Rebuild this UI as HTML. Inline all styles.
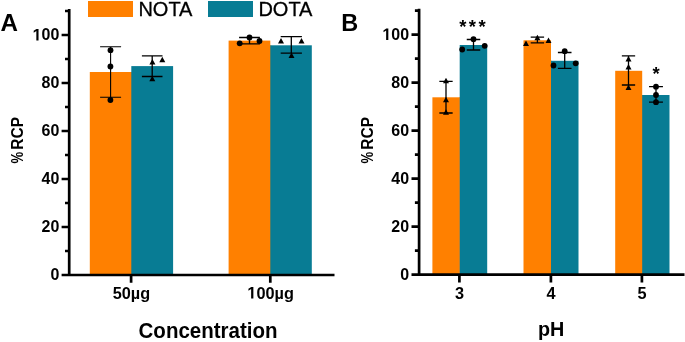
<!DOCTYPE html>
<html><head><meta charset="utf-8"><style>
html,body{margin:0;padding:0;background:#fff;width:685px;height:342px;overflow:hidden}
svg{display:block;will-change:transform}
text{font-family:"Liberation Sans",sans-serif;fill:#000}
</style></head><body>
<svg width="685" height="342" viewBox="0 0 685 342">
<text transform="translate(0.60 31.30) scale(1.03 1.04)" font-size="23.5" font-weight="bold" text-anchor="start">A</text>
<text transform="translate(341.20 31.20) scale(1.0 1.04)" font-size="23.5" font-weight="bold" text-anchor="start">B</text>
<rect x="88" y="1" width="45" height="16" fill="#ff8000"/>
<text transform="translate(138.40 16.00) scale(1.0 1.05)" font-size="20" font-weight="normal" text-anchor="start" stroke="#000" stroke-width="0.3">NOTA</text>
<rect x="208" y="1" width="45" height="16" fill="#087c94"/>
<text transform="translate(258.40 16.00) scale(1.0 1.05)" font-size="20" font-weight="normal" text-anchor="start" stroke="#000" stroke-width="0.3">DOTA</text>
<g transform="translate(-0.2 0.3)">
<rect x="90.00" y="71.70" width="41.50" height="203.00" fill="#ff8000"/>
<rect x="131.00" y="71.70" width="1.5" height="203.00" fill="#ff8000"/>
<rect x="131.50" y="65.80" width="41.80" height="208.90" fill="#087c94"/>
<rect x="228.80" y="40.30" width="41.70" height="234.40" fill="#ff8000"/>
<rect x="270.00" y="45.00" width="1.5" height="229.70" fill="#ff8000"/>
<rect x="270.50" y="45.00" width="41.50" height="229.70" fill="#087c94"/>
<path d="M110.80 46.40V97.00M100.30 46.40H121.30M100.30 97.00H121.30" stroke="#000" stroke-width="1.1" fill="none"/>
<path d="M152.40 55.60V76.20M142.10 55.60H162.70M142.10 76.20H162.70" stroke="#000" stroke-width="1.3" fill="none"/>
<path d="M249.70 37.20V43.50M239.30 37.20H260.10M239.30 43.50H260.10" stroke="#000" stroke-width="1.3" fill="none"/>
<path d="M291.50 36.30V52.80M280.90 36.30H302.10M280.90 52.80H302.10" stroke="#000" stroke-width="1.3" fill="none"/>
<g fill="#000"><circle cx="110.70" cy="49.90" r="2.9"/><circle cx="110.60" cy="66.20" r="2.9"/><circle cx="110.60" cy="99.70" r="2.9"/><circle cx="239.90" cy="43.00" r="2.9"/><circle cx="249.70" cy="37.20" r="2.9"/><circle cx="259.70" cy="40.70" r="2.9"/></g>
<path fill="#000" d="M149.60 64.20L155.60 64.20L152.60 58.60ZM159.50 62.00L165.50 62.00L162.50 56.40ZM149.50 81.00L155.50 81.00L152.50 75.40ZM278.20 43.30L284.20 43.30L281.20 37.70ZM298.70 43.30L304.70 43.30L301.70 37.70ZM288.70 57.80L294.70 57.80L291.70 52.20Z"/>
<path d="M69.4 8.75V274.70M68.05 274.7H334.70M61.80 274.70H69.4M65.20 250.70H69.4M61.80 226.70H69.4M65.20 202.70H69.4M61.80 178.70H69.4M65.20 154.70H69.4M61.80 130.70H69.4M65.20 106.70H69.4M61.80 82.70H69.4M65.20 58.70H69.4M61.80 34.70H69.4M65.20 10.70H69.4M131.30 274.7V282.4M270.50 274.7V282.4" stroke="#000" stroke-width="2.7" fill="none"/>
<g transform="translate(0.3 -0.3)">
<text transform="translate(59.20 280.45) scale(1.0 1.04)" font-size="16" font-weight="bold" text-anchor="end">0</text>
<text transform="translate(59.20 232.45) scale(1.0 1.04)" font-size="16" font-weight="bold" text-anchor="end">20</text>
<text transform="translate(59.20 184.45) scale(1.0 1.04)" font-size="16" font-weight="bold" text-anchor="end">40</text>
<text transform="translate(59.20 136.45) scale(1.0 1.04)" font-size="16" font-weight="bold" text-anchor="end">60</text>
<text transform="translate(59.20 88.45) scale(1.0 1.04)" font-size="16" font-weight="bold" text-anchor="end">80</text>
<text transform="translate(59.20 40.45) scale(1.0 1.04)" font-size="16" font-weight="bold" text-anchor="end">00</text>
<path fill="#000" d="M36.24 40.45 36.24 30.94 33.60 32.66 33.60 30.86 36.36 29.00 38.43 29.00 38.43 40.45Z"/>
<text transform="translate(131.30 298.60) scale(1.0 1.04)" font-size="16.3" font-weight="bold" text-anchor="middle">50µg</text>
<path fill="#000" d="M251.03 298.60 251.03 288.92 248.34 290.66 248.34 288.83 251.15 286.94 253.27 286.94 253.27 298.60Z"/>
<text transform="translate(256.29 298.60) scale(1.0 1.04)" font-size="16.3" font-weight="bold" text-anchor="start">00µg</text>
</g></g>
<text transform="translate(23.00 117.00) rotate(-90) scale(0.97 1.04)" font-size="16" font-weight="bold" text-anchor="end">RCP</text>
<text transform="translate(23.00 163.50) rotate(-90) scale(0.82 1.04)" font-size="16" font-weight="bold" text-anchor="start">%</text>
<text transform="translate(208.00 338.20) scale(1.0 1.04)" font-size="20.5" font-weight="bold" text-anchor="middle">Concentration</text>
<g transform="translate(0.2 0)">
<rect x="432.20" y="97.30" width="27.30" height="177.40" fill="#ff8000"/>
<rect x="459.00" y="97.30" width="1.5" height="177.40" fill="#ff8000"/>
<rect x="459.50" y="45.00" width="27.50" height="229.70" fill="#087c94"/>
<rect x="523.30" y="40.30" width="27.50" height="234.40" fill="#ff8000"/>
<rect x="550.30" y="60.80" width="1.5" height="213.90" fill="#ff8000"/>
<rect x="550.80" y="60.80" width="27.50" height="213.90" fill="#087c94"/>
<rect x="615.00" y="70.80" width="27.00" height="203.90" fill="#ff8000"/>
<rect x="641.50" y="95.00" width="1.5" height="179.70" fill="#ff8000"/>
<rect x="642.00" y="95.00" width="27.30" height="179.70" fill="#087c94"/>
<path d="M445.80 81.30V113.00M439.15 81.30H452.45M439.15 113.00H452.45" stroke="#000" stroke-width="1.3" fill="none"/>
<path d="M473.30 39.50V50.00M466.55 39.50H480.05M466.55 50.00H480.05" stroke="#000" stroke-width="1.3" fill="none"/>
<path d="M537.20 37.20V42.80M530.50 37.20H543.90M530.50 42.80H543.90" stroke="#000" stroke-width="1.3" fill="none"/>
<path d="M564.50 52.50V68.30M557.70 52.50H571.30M557.70 68.30H571.30" stroke="#000" stroke-width="1.3" fill="none"/>
<path d="M628.30 55.80V85.00M621.65 55.80H634.95M621.65 85.00H634.95" stroke="#000" stroke-width="1.3" fill="none"/>
<path d="M655.80 86.70V102.20M648.85 86.70H662.75M648.85 102.20H662.75" stroke="#000" stroke-width="1.3" fill="none"/>
<g fill="#000"><circle cx="462.00" cy="49.50" r="2.9"/><circle cx="473.30" cy="39.20" r="2.9"/><circle cx="484.50" cy="45.80" r="2.9"/><circle cx="564.50" cy="51.20" r="2.9"/><circle cx="553.30" cy="65.50" r="2.9"/><circle cx="575.50" cy="63.30" r="2.9"/><circle cx="655.80" cy="86.70" r="2.9"/><circle cx="655.80" cy="95.00" r="2.9"/><circle cx="655.80" cy="102.20" r="2.9"/></g>
<path fill="#000" d="M442.80 83.30L448.80 83.30L445.80 77.70ZM442.80 102.30L448.80 102.30L445.80 96.70ZM442.80 114.80L448.80 114.80L445.80 109.20ZM522.80 46.10L528.80 46.10L525.80 40.50ZM534.20 40.30L540.20 40.30L537.20 34.70ZM545.30 43.10L551.30 43.10L548.30 37.50ZM625.30 61.60L631.30 61.60L628.30 56.00ZM625.30 69.50L631.30 69.50L628.30 63.90ZM625.30 90.10L631.30 90.10L628.30 84.50Z"/>
<path d="M418.9 8.75V274.70M417.55 274.7H684.30M411.30 274.70H418.9M414.70 250.70H418.9M411.30 226.70H418.9M414.70 202.70H418.9M411.30 178.70H418.9M414.70 154.70H418.9M411.30 130.70H418.9M414.70 106.70H418.9M411.30 82.70H418.9M414.70 58.70H418.9M411.30 34.70H418.9M414.70 10.70H418.9M459.20 274.7V282.4M550.70 274.7V282.4M641.70 274.7V282.4" stroke="#000" stroke-width="2.7" fill="none"/>
<g transform="translate(0.2 -0.4)">
<text transform="translate(408.70 280.45) scale(1.0 1.04)" font-size="16" font-weight="bold" text-anchor="end">0</text>
<text transform="translate(408.70 232.45) scale(1.0 1.04)" font-size="16" font-weight="bold" text-anchor="end">20</text>
<text transform="translate(408.70 184.45) scale(1.0 1.04)" font-size="16" font-weight="bold" text-anchor="end">40</text>
<text transform="translate(408.70 136.45) scale(1.0 1.04)" font-size="16" font-weight="bold" text-anchor="end">60</text>
<text transform="translate(408.70 88.45) scale(1.0 1.04)" font-size="16" font-weight="bold" text-anchor="end">80</text>
<text transform="translate(408.70 40.45) scale(1.0 1.04)" font-size="16" font-weight="bold" text-anchor="end">00</text>
<path fill="#000" d="M385.74 40.45 385.74 30.94 383.10 32.66 383.10 30.86 385.86 29.00 387.93 29.00 387.93 40.45Z"/>
<text transform="translate(459.20 299.30) scale(1.0 1.04)" font-size="16.3" font-weight="bold" text-anchor="middle">3</text>
<text transform="translate(550.70 299.30) scale(1.0 1.04)" font-size="16.3" font-weight="bold" text-anchor="middle">4</text>
<text transform="translate(641.70 299.30) scale(1.0 1.04)" font-size="16.3" font-weight="bold" text-anchor="middle">5</text>
</g></g>
<text transform="translate(372.50 117.00) rotate(-90) scale(0.97 1.04)" font-size="16" font-weight="bold" text-anchor="end">RCP</text>
<text transform="translate(372.50 163.50) rotate(-90) scale(0.82 1.04)" font-size="16" font-weight="bold" text-anchor="start">%</text>
<text transform="translate(551.20 336.10) scale(1.0 1.04)" font-size="19.8" font-weight="bold" text-anchor="middle">pH</text>
<text transform="translate(473.60 32.90) scale(1.0 1.04)" font-size="18.5" font-weight="bold" text-anchor="middle" letter-spacing="2.4">***</text>
<text transform="translate(656.20 80.20) scale(1.0 1.04)" font-size="18.5" font-weight="bold" text-anchor="middle">*</text>
</svg>
</body></html>
